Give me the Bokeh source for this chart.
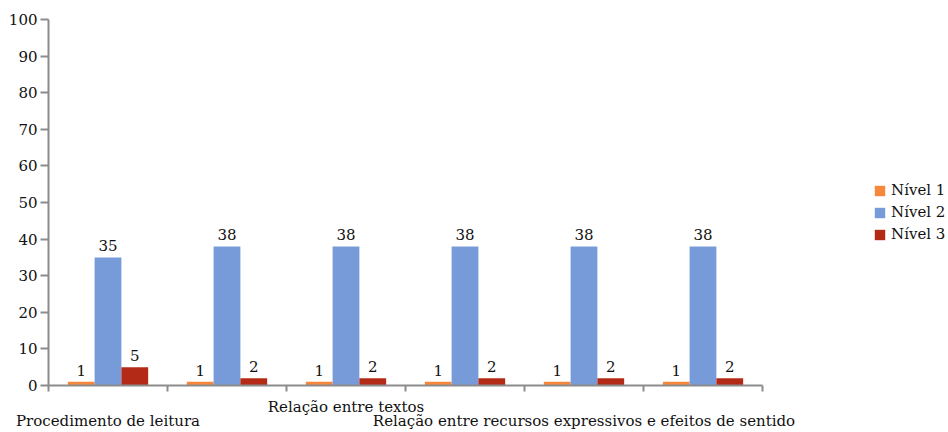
from bokeh.plotting import figure
from bokeh.models import (Range1d, LinearAxis, FixedTicker, Legend, LegendItem,
                          ColumnDataSource)
from bokeh.core.properties import value
from bokeh.embed import file_html
from bokeh.resources import INLINE

# Categories (only every other label fits on the axis, in two staggered rows)
categories = [
    "Procedimento de leitura",
    "",
    "Relação entre textos",
    "",
    "Relação entre recursos expressivos e efeitos de sentido",
    "",
]
series_names = ["Nível 1", "Nível 2", "Nível 3"]
nivel1 = [1, 1, 1, 1, 1, 1]
nivel2 = [35, 38, 38, 38, 38, 38]
nivel3 = [5, 2, 2, 2, 2, 2]
y_ticks = [0, 10, 20, 30, 40, 50, 60, 70, 80, 90, 100]

colors = ["#F7883B", "#779BD9", "#B32B17"]
FONT = "DejaVu Serif"
FSIZE = "15px"
AXIS_GRAY = "#8C8C8C"

n = len(categories)
W, H = 948, 432
LEFT = 48
CAT_PX = 119          # width of one category slot in pixels
x_end = (W - LEFT) / CAT_PX   # frame runs to the right edge; legend sits in it

p = figure(width=W, height=H, output_backend="svg", toolbar_location=None,
           x_range=Range1d(0, x_end), y_range=Range1d(0, 100),
           x_axis_type=None, y_axis_type=None,
           min_border_left=LEFT, min_border_right=0, min_border_top=19,
           min_border_bottom=0)
p.outline_line_color = None
p.xgrid.visible = False
p.ygrid.visible = False
p.background_fill_color = "white"
p.border_fill_color = "white"

# y axis
yax = LinearAxis(ticker=FixedTicker(ticks=y_ticks))
yax.axis_line_color = AXIS_GRAY
yax.axis_line_width = 2
yax.major_tick_line_color = AXIS_GRAY
yax.major_tick_line_width = 2
yax.major_tick_in = 0
yax.major_tick_out = 8
yax.minor_tick_line_color = None
yax.major_label_standoff = 3
yax.major_label_text_font = FONT
yax.major_label_text_font_size = FSIZE
yax.major_label_text_color = "#111111"
p.add_layout(yax, "left")

# x axis: category boundaries, limited to the categories
xax = LinearAxis(ticker=FixedTicker(ticks=list(range(n + 1))), bounds=(0, n))
xax.axis_line_color = AXIS_GRAY
xax.axis_line_width = 2
xax.major_tick_line_color = AXIS_GRAY
xax.major_tick_line_width = 2
xax.major_tick_in = 0
xax.major_tick_out = 6
xax.minor_tick_line_color = None
xax.major_label_standoff = 0
xax.major_label_overrides = {i: "" for i in range(n + 1)}
xax.major_label_text_font_size = "1px"
p.add_layout(xax, "below")

# category labels, staggered over two rows
row1 = [i for i in range(n) if categories[i] and (i // 2) % 2 == 1]
row2 = [i for i in range(n) if categories[i] and (i // 2) % 2 == 0]
for rows, standoff in ((row1, 6), (row2, -7)):
    ax = LinearAxis(ticker=FixedTicker(ticks=[i + 0.5 for i in rows]))
    ax.axis_line_color = None
    ax.major_tick_line_color = None
    ax.minor_tick_line_color = None
    ax.major_tick_in = 0
    ax.major_tick_out = 0
    ax.major_label_standoff = standoff
    ax.major_label_overrides = {i + 0.5: categories[i] for i in rows}
    ax.major_label_text_font = FONT
    ax.major_label_text_font_size = FSIZE
    ax.major_label_text_color = "#111111"
    p.add_layout(ax, "below")

# grouped bars
bar_w = 0.225
offsets = [-bar_w, 0.0, bar_w]
renderers = []
for vals, off, col in zip([nivel1, nivel2, nivel3], offsets, colors):
    src = ColumnDataSource(dict(x=[i + 0.5 + off for i in range(n)], top=vals,
                                lbl=[str(v) for v in vals]))
    r = p.vbar(x="x", top="top", bottom=0, width=bar_w, source=src,
               fill_color=col, line_color=None)
    renderers.append(r)
    p.text(x="x", y="top", text="lbl", source=src, text_align="center",
           text_baseline="bottom", y_offset=-6, text_font=value(FONT),
           text_font_size=FSIZE, text_color="#111111")

# legend at the right, beside the category area
legend = Legend(items=[LegendItem(label=nm, renderers=[r])
                       for nm, r in zip(series_names, renderers)],
                location=(825, 142))
legend.border_line_color = None
legend.background_fill_alpha = 0
legend.padding = 0
legend.margin = 0
legend.spacing = 4
legend.glyph_width = 13
legend.glyph_height = 13
legend.label_height = 14
legend.label_standoff = 5
legend.label_text_font = FONT
legend.label_text_font_size = FSIZE
legend.label_text_color = "#111111"
p.add_layout(legend)

open("out.html", "w").write(file_html(p, INLINE))
